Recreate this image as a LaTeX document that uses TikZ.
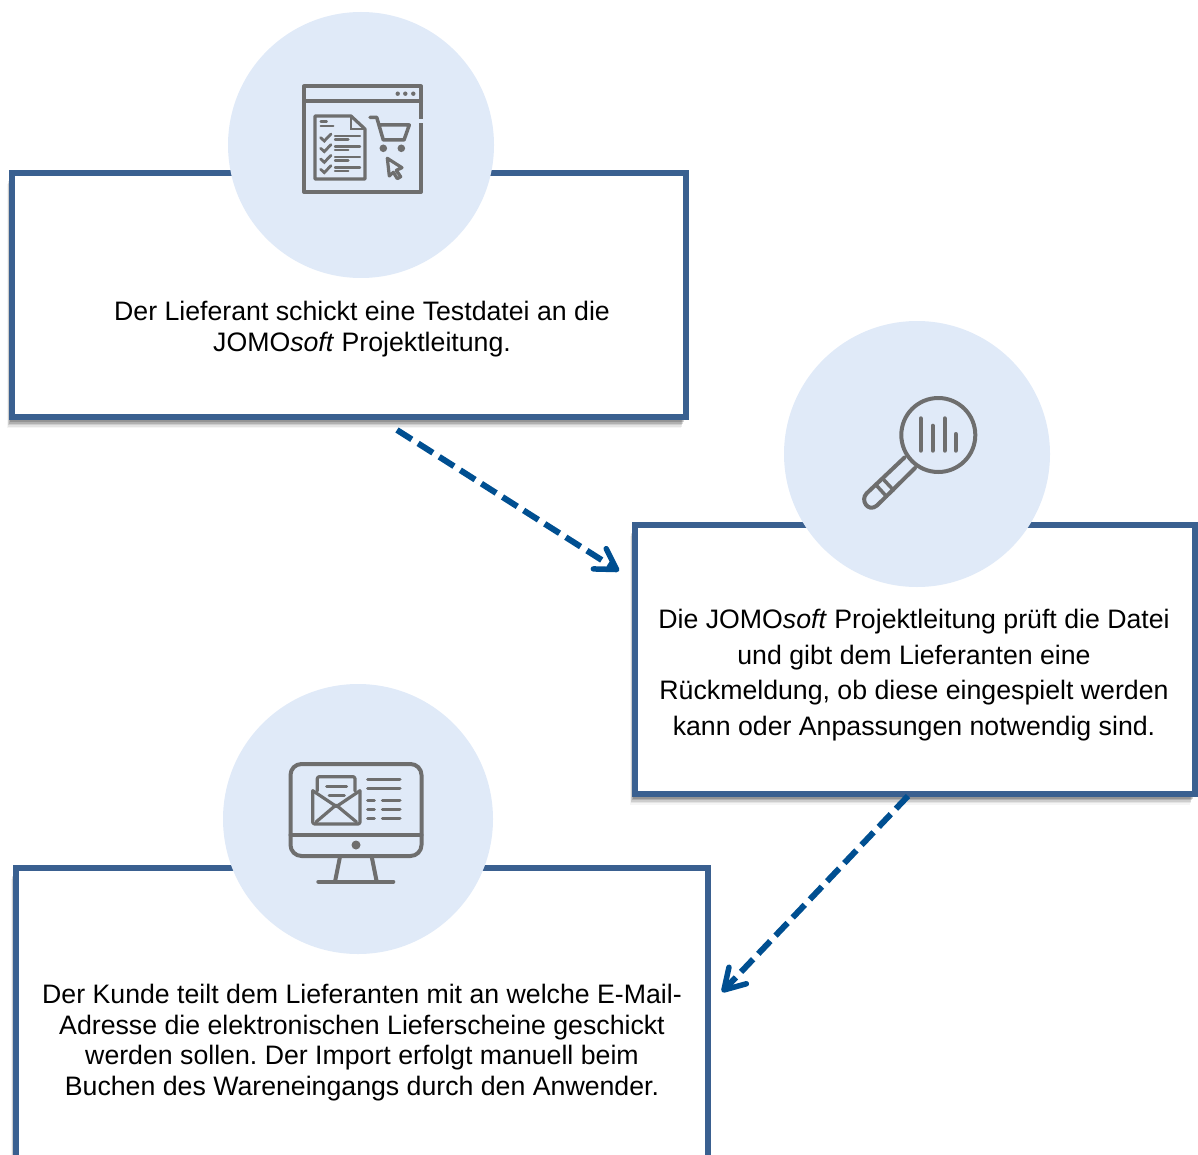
\documentclass[tikz,border=0pt]{standalone}
\usepackage{fontspec}
\setmainfont{Liberation Sans}
\frenchspacing
\usetikzlibrary{arrows.meta,shadows}
\definecolor{boxblue}{HTML}{3A6090}
\definecolor{arrowblue}{HTML}{004F91}
\definecolor{circleblue}{HTML}{E0EAF8}
\definecolor{icongray}{HTML}{6E6E6E}
\tikzset{
	stepframe/.style={draw=boxblue, fill=white, line width=6pt, inner sep=0pt,
		general shadow={fill=black, opacity=.04, shadow xshift=-5pt, shadow yshift=-11pt},
		general shadow={fill=black, opacity=.07, shadow xshift=-4pt, shadow yshift=-9.5pt},
		general shadow={fill=black, opacity=.10, shadow xshift=-3.5pt, shadow yshift=-8pt},
		general shadow={fill=black, opacity=.14, shadow xshift=-3pt, shadow yshift=-6.5pt},
		general shadow={fill=black, opacity=.16, shadow xshift=-2pt, shadow yshift=-5pt}},
	iconcircle/.style={circle, fill=circleblue, inner sep=0pt},
	steptext/.style={align=center, inner sep=0pt},
	flowarrow/.style={draw=arrowblue, line width=6pt, dash pattern=on 17.5pt off 7.5pt,
		-{Straight Barb[length=20pt,width=24pt,round,line width=5.5pt]}},
	icon/.style={draw=icongray, line width=4pt, line join=round, line cap=round},
	iconthin/.style={draw=icongray, line width=2.4pt, line cap=round},
}
\begin{document}
\begin{tikzpicture}[x=1pt,y=-1pt]
	\useasboundingbox (0,0) rectangle (1198,1155);
	\clip (0,0) rectangle (1198,1155);
	\fontsize{26.7}{30.6}\selectfont

	% boxes
	\node[stepframe, minimum width=674pt, minimum height=243.5pt] (box1) at (348.5,295.25){};
	\node[stepframe, minimum width=560pt, minimum height=269pt] (box2) at (914.5,659){};
	\node[stepframe, minimum width=692pt, minimum height=382.5pt] (box3) at (361.5,1058.75){};

	% circles
	\node[iconcircle, minimum size=266pt] (circle1) at (361,145){};
	\node[iconcircle, minimum size=266pt] (circle2) at (917,454){};
	\node[iconcircle, minimum size=270pt] (circle3) at (358,819){};

	% texts
	\node[steptext] (text1) at (362,329){Der Lieferant schickt eine Testdatei an die\\JOMO\textit{soft} Projektleitung.};
	\node[steptext, font=\fontsize{26.7}{35.8}\selectfont] (text2) at (914,675){Die JOMO\textit{soft} Projektleitung prüft die Datei\\und gibt dem Lieferanten eine\\Rückmeldung, ob diese eingespielt werden\\kann oder Anpassungen notwendig sind.};
	\node[steptext] (text3) at (362,1042.5){Der Kunde teilt dem Lieferanten mit an welche E-Mail-\\Adresse die elektronischen Lieferscheine geschickt\\werden sollen. Der Import erfolgt manuell beim\\Buchen des Wareneingangs durch den Anwender.};

	% arrows
	\coordinate (arrow1start) at (397,430);
	\coordinate (arrow1end) at (619,571);
	\coordinate (arrow2start) at (908,796);
	\coordinate (arrow2end) at (722,992);
	\draw[flowarrow] (arrow1start) -- (arrow1end);
	\draw[flowarrow] (arrow2start) -- (arrow2end);

	% icon: window with list and cart
	\draw[icon] (304,86.5) rectangle (421,192);
	\draw[draw=circleblue, line width=6pt] (421,119) -- (421,123);
	\draw[icon] (304,101) -- (421,101);
	\foreach \x in {397.7,405.3,413.3}
		\fill[icongray] (\x,93.7) circle (2.2pt);
	\draw[icon, line width=3.2pt] (315,116) -- (351,116) -- (365,129) -- (365,179) -- (315,179) -- cycle;
	\draw[iconthin] (351,116) -- (351,129) -- (365,129);
	\draw[iconthin] (320.7,121.7) -- (326.7,121.7);
	\draw[iconthin] (320.7,126) -- (333.3,126);
	\foreach \y in {137.7,148.3,159,169.3}{
		\draw[iconthin, line width=2.8pt] (320.7,\y) -- (324.3,\y+3.3) -- (331,\y-3.7);
		\draw[iconthin] (335,\y-1.7) -- (360,\y-1.7);
		\draw[iconthin] (335,\y+1.7) -- (348.3,\y+1.7);
	}
	\draw[icon, line width=3.5pt] (370,117.3) -- (376.7,117.3) -- (383.3,140) -- (404,140) -- (409.3,125) -- (379.3,125);
	\fill[icongray] (383.3,148.3) circle (3.8pt);
	\fill[icongray] (401.3,148.3) circle (3.8pt);
	\draw[icon, line width=3.2pt] (387.3,158.3) -- (402,167.7) -- (396.3,170.3) -- (400.7,176.7) -- (397.3,178.7) -- (393.3,172.3) -- (389.3,176) -- cycle;

	% icon: magnifier
	\draw[icon] (938.3,435) circle (37pt);
	\foreach \x/\y in {920.7/418.3,932.7/425.7,944.7/418.3,955.7/434}
		\draw[icon, line width=4pt] (\x,\y) -- (\x,450.7);
	\draw[icon] (904.5,457.5) -- (866.5,493.5) .. controls (860,500) and (868,513) .. (877,505.5) -- (915,468);
	\draw[icon, line width=3.5pt] (876.7,485.7) -- (886.7,496.7);
	\draw[icon, line width=3.5pt] (884,480) -- (893.3,490);

	% icon: monitor with mail
	\draw[icon, rounded corners=11pt] (290.5,764) rectangle (421.5,856);
	\draw[icon] (290.5,835) -- (421.5,835);
	\fill[icongray] (356,845) circle (4.5pt);
	\draw[icon] (340,856.7) -- (335,881.7);
	\draw[icon] (371.7,856.7) -- (376.7,881.7);
	\draw[icon] (318.3,881.7) -- (393.3,881.7);
	\draw[icon, line width=3.2pt, rounded corners=2pt] (317.3,791) -- (317.3,776.7) -- (355,776.7) -- (355,791);
	\draw[icon, line width=3.2pt, rounded corners=2pt] (312.7,790.7) -- (312.7,824) -- (360,824) -- (360,790.7);
	\draw[icon, line width=3.2pt] (312.7,790.7) -- (336.4,806.5) -- (360,790.7);
	\draw[icon, line width=3.2pt] (316,822) -- (336,805) -- (356.5,822);
	\draw[iconthin, line width=3pt] (326.7,786) -- (346.7,786);
	\draw[iconthin, line width=3pt] (329,795) -- (344.3,795);
	\foreach \y in {779.3,788.7}
		\draw[iconthin, line width=3pt] (367.7,\y) -- (400,\y);
	\foreach \y in {800,809.3,818.3}{
		\draw[iconthin, line width=3pt] (367.7,\y) -- (374.3,\y);
		\draw[iconthin, line width=3pt] (382.3,\y) -- (400,\y);
	}
\end{tikzpicture}
\end{document}
